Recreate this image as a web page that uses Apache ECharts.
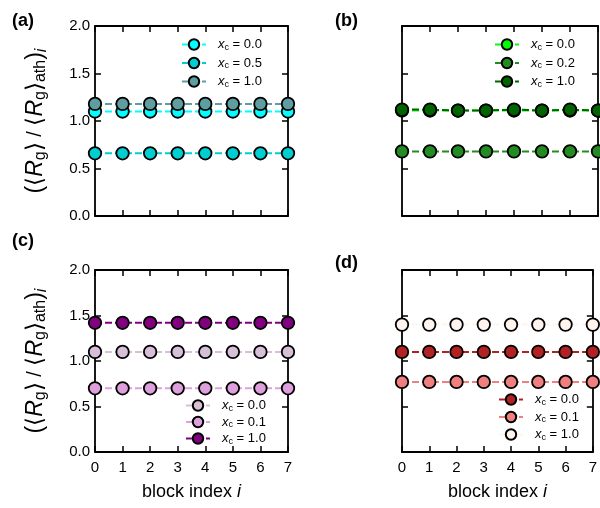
<!DOCTYPE html>
<html><head><meta charset="utf-8">
<script src="https://cdn.jsdelivr.net/npm/echarts@6/dist/echarts.min.js"></script>
<style>html,body{margin:0;padding:0;background:#fff}#chart{width:600px;height:508px}</style>
</head><body><div id="chart"></div>
<script>
// block indices along the x axis
const blocks = [0, 1, 2, 3, 4, 5, 6, 7];
const yTickStep = 0.5;

// panel (a)
const aNames = ['0.0', '0.5', '1.0'];
const aColors = ['#00FFFF', '#00CED1', '#5F9EA0'];
const a_x00 = [1.10, 1.10, 1.10, 1.10, 1.10, 1.10, 1.10, 1.10];
const a_x05 = [0.66, 0.66, 0.66, 0.66, 0.66, 0.66, 0.66, 0.66];
const a_x10 = [1.18, 1.18, 1.18, 1.18, 1.18, 1.18, 1.18, 1.18];

// panel (b)
const bNames = ['0.0', '0.2', '1.0'];
const bColors = ['#00FF00', '#228B22', '#006400'];
const b_x00 = [1.11, 1.11, 1.11, 1.11, 1.11, 1.11, 1.11, 1.11];
const b_x02 = [0.68, 0.68, 0.68, 0.68, 0.68, 0.68, 0.68, 0.68];
const b_x10 = [1.12, 1.12, 1.11, 1.11, 1.12, 1.11, 1.12, 1.11];

// panel (c)
const cNames = ['0.0', '0.1', '1.0'];
const cColors = ['#D8BFD8', '#DDA0DD', '#800080'];
const c_x00 = [1.10, 1.10, 1.10, 1.10, 1.10, 1.10, 1.10, 1.10];
const c_x01 = [0.70, 0.70, 0.70, 0.70, 0.70, 0.70, 0.70, 0.70];
const c_x10 = [1.42, 1.42, 1.42, 1.42, 1.42, 1.42, 1.42, 1.42];

// panel (d)
const dNames = ['0.0', '0.1', '1.0'];
const dColors = ['#B22222', '#F08080', '#FFF5EE'];
const d_x00 = [1.10, 1.10, 1.10, 1.10, 1.10, 1.10, 1.10, 1.10];
const d_x01 = [0.77, 0.77, 0.77, 0.77, 0.77, 0.77, 0.77, 0.77];
const d_x10 = [1.40, 1.40, 1.40, 1.40, 1.40, 1.40, 1.40, 1.40];

const FONT = 'Liberation Sans, Arial, sans-serif';

const panels = [
  { key: 'a', names: aNames, colors: aColors, values: [a_x00, a_x05, a_x10],
    grid: { left: 95, top: 26, width: 193, height: 190 }, yLabels: true, xLabels: false,
    legend: { left: 181, top: 37, gap: 3.5 } },
  { key: 'b', names: bNames, colors: bColors, values: [b_x00, b_x02, b_x10],
    grid: { left: 402, top: 26, width: 196, height: 190 }, yLabels: false, xLabels: false,
    legend: { left: 494, top: 37, gap: 3.5 } },
  { key: 'c', names: cNames, colors: cColors, values: [c_x00, c_x01, c_x10],
    grid: { left: 95, top: 270, width: 193, height: 182 }, yLabels: true, xLabels: true,
    legend: { left: 185, top: 398, gap: 1.5 } },
  { key: 'd', names: dNames, colors: dColors, values: [d_x00, d_x01, d_x10],
    grid: { left: 402, top: 270, width: 196, height: 182 }, yLabels: false, xLabels: true,
    legend: { left: 498, top: 392, gap: 2.5 } }
];

const grids = [], xAxes = [], yAxes = [], series = [], legends = [];

const yName = '(⟨{it|R}{sb|g}⟩{sl| / }⟨{it|R}{sb|g}⟩{sb|ath}){si|i}';
const yNameStyle = {
  fontFamily: FONT, fontSize: 23, color: '#000',
  rich: {
    it: { fontFamily: FONT, fontSize: 23, fontStyle: 'italic', color: '#000' },
    sl: { fontFamily: FONT, fontSize: 20, color: '#000' },
    sb: { fontFamily: FONT, fontSize: 16, color: '#000', padding: [11, 0, 0, 0] },
    si: { fontFamily: FONT, fontSize: 16, fontStyle: 'italic', color: '#000', padding: [13, 0, 0, 0] }
  }
};
const xName = 'block index {it|i}';
const xNameStyle = {
  fontFamily: FONT, fontSize: 18, color: '#000',
  rich: { it: { fontFamily: FONT, fontSize: 18, fontStyle: 'italic', color: '#000' } }
};

const tickCommon = { show: true, inside: true, length: 6, lineStyle: { color: '#000', width: 1.5 } };
const lineCommon = { show: true, onZero: false, lineStyle: { color: '#000', width: 1.8 } };

panels.forEach((p, gi) => {
  grids.push(Object.assign({ containLabel: false }, p.grid));
  // bottom and top x axes
  xAxes.push({
    gridIndex: gi, type: 'value', min: 0, max: 7, interval: 1, position: 'bottom',
    axisLine: lineCommon, axisTick: tickCommon, splitLine: { show: false },
    axisLabel: { show: p.xLabels, color: '#000', fontFamily: FONT, fontSize: 15, margin: 8 },
    name: p.xLabels ? xName : '', nameLocation: 'middle', nameGap: 31, nameTextStyle: xNameStyle
  });
  xAxes.push({
    gridIndex: gi, type: 'value', min: 0, max: 7, interval: 1, position: 'top',
    axisLine: lineCommon, axisTick: tickCommon, splitLine: { show: false }, axisLabel: { show: false }
  });
  // left and right y axes
  yAxes.push({
    gridIndex: gi, type: 'value', min: 0, max: 2, interval: yTickStep, position: 'left',
    axisLine: lineCommon, axisTick: tickCommon, splitLine: { show: false },
    axisLabel: { show: p.yLabels, color: '#000', fontFamily: FONT, fontSize: 15, margin: 5,
      formatter: v => v.toFixed(1) },
    name: p.yLabels ? yName : '', nameLocation: 'middle', nameRotate: 90, nameGap: 45,
    nameTextStyle: yNameStyle
  });
  yAxes.push({
    gridIndex: gi, type: 'value', min: 0, max: 2, interval: yTickStep, position: 'right',
    axisLine: lineCommon, axisTick: tickCommon, splitLine: { show: false }, axisLabel: { show: false }
  });
  const names = [];
  p.values.forEach((vals, si) => {
    const name = p.key + '|' + p.names[si];
    names.push(name);
    series.push({
      type: 'line', name: name, xAxisIndex: gi * 2, yAxisIndex: gi * 2, clip: false,
      data: blocks.map((b, k) => [b, vals[k]]),
      symbol: 'circle', symbolSize: 12.5,
      itemStyle: { color: p.colors[si], borderColor: '#000', borderWidth: 1.8 },
      lineStyle: { color: p.colors[si], width: 2, type: [7, 3] },
      emphasis: { disabled: true }, animation: false, z: 3 + si
    });
  });
  legends.push({
    data: names, orient: 'vertical', left: p.legend.left, top: p.legend.top,
    itemWidth: 24, itemHeight: 13, itemGap: p.legend.gap, padding: 0, selectedMode: false,
    formatter: n => '{x|x}{c|c}{t|\u00a0=\u00a0' + n.split('|')[1] + '}',
    textStyle: {
      color: '#000', fontFamily: FONT, fontSize: 13, lineHeight: 14, padding: [0, 0, 0, 7],
      rich: {
        x: { fontFamily: FONT, fontSize: 13, fontStyle: 'italic', color: '#000', lineHeight: 14 },
        c: { fontFamily: FONT, fontSize: 9, color: '#000', padding: [6, 0, 0, 0], lineHeight: 14 },
        t: { fontFamily: FONT, fontSize: 13, color: '#000', lineHeight: 14 }
      }
    }
  });
});

const panelTag = (txt, x, y) => ({
  type: 'text', left: x, top: y,
  style: { text: txt, fontFamily: FONT, fontSize: 18, fontWeight: 'bold', fill: '#000' }
});

const chart = echarts.init(document.getElementById('chart'), null, { renderer: 'canvas' });
chart.setOption({
  animation: false,
  backgroundColor: '#fff',
  grid: grids, xAxis: xAxes, yAxis: yAxes, series: series, legend: legends,
  graphic: [
    panelTag('(a)', 12, 12),
    panelTag('(b)', 335, 12),
    panelTag('(c)', 12, 232),
    panelTag('(d)', 335, 254)
  ]
});
</script></body></html>
